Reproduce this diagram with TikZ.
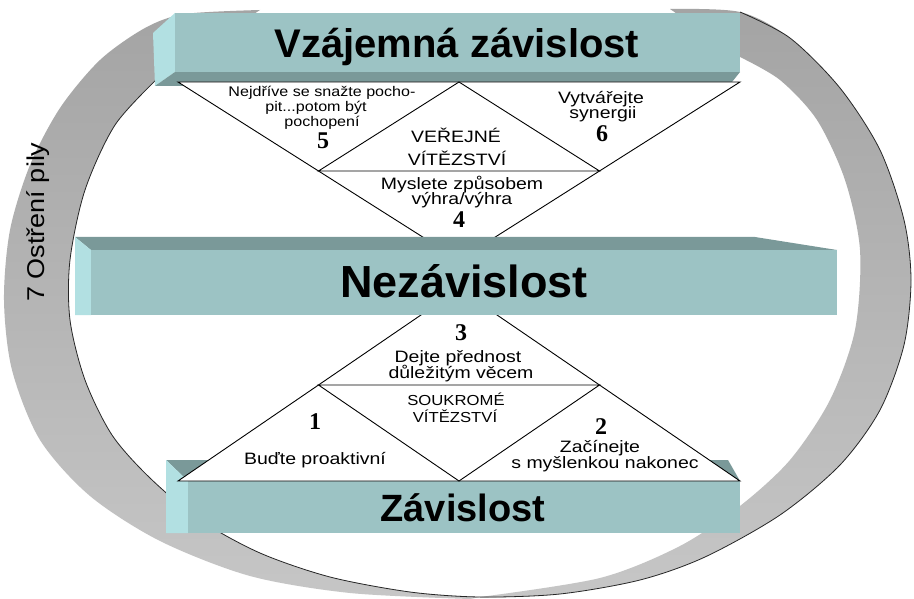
\documentclass[tikz,border=0pt]{standalone}
\usepackage{fontspec}
\setmainfont{Liberation Sans}
\newfontfamily\numfont{Liberation Serif}
\usetikzlibrary{calc}
\definecolor{barfront}{HTML}{9CC3C4}
\definecolor{bardark}{HTML}{7A9999}
\definecolor{barside}{HTML}{B2E0E2}
\definecolor{ringtop}{HTML}{A4A4A4}
\definecolor{ringbot}{HTML}{C6C6C6}
\begin{document}
\begin{tikzpicture}[x=1pt,y=-1pt,
  title/.style={font=\bfseries\fontsize{40}{48}\selectfont, inner sep=0pt, anchor=base},
  lbl/.style={font=\fontsize{16.5}{18}\selectfont, xscale=1.18, inner sep=0pt, anchor=base},
  smalllbl/.style={font=\fontsize{14.5}{16}\selectfont, xscale=1.15, inner sep=0pt, anchor=base},
  tinylbl/.style={font=\fontsize{14}{15}\selectfont, xscale=1.15, inner sep=0pt, anchor=base},
  num/.style={font=\numfont\bfseries\fontsize{24}{26}\selectfont, inner sep=0pt, anchor=base},
  edge/.style={line width=0.9pt, black, line join=miter},
  ringline/.style={line width=0.8pt, black!85}]
\useasboundingbox (0,0) rectangle (914,599);
\fill[white] (0,0) rectangle (914,599);

% --- the ring "7 Ostreni pily": left half of the band
\shade[top color=ringtop, bottom color=ringbot]
  plot[smooth] coordinates {(158,78) (115,125) (85,190) (70,260) (70,320) (85,380) (112,435) (150,478) (200,520) (260,553) (330,577) (410,592) (480,597)}
  -- plot[smooth] coordinates {(470,599) (350,593) (250,576) (160,541) (90,496) (40,440) (12,370) (4,300) (10,230) (30,165) (60,108) (100,60) (145,28) (185,14) (260,10)}
  -- cycle;
% right half of the band
\shade[top color=ringtop, bottom color=ringbot]
  plot[smooth] coordinates {(670,9) (740,12) (790,38) (840,88) (880,150) (904,220) (911,280) (904,345) (880,410) (840,465) (780,515) (705,557) (640,580) (560,594) (480,598)}
  -- plot[smooth] coordinates {(480,597) (600,578) (680,546) (740,506) (790,460) (830,400) (855,330) (860,250) (845,180) (817,120) (780,80) (740,57)}
  -- cycle;
% dark edge of the band
\draw[ringline] plot[smooth] coordinates {(158,78) (115,125) (85,190) (70,260) (70,320) (85,380) (112,435) (150,478) (200,520) (260,553) (330,577) (410,592) (480,597) (560,594) (640,580) (705,557) (780,515) (840,465) (880,410) (904,345) (911,280) (904,220) (880,150) (840,88) (790,38) (740,12)};
\node[font=\fontsize{27}{29}\selectfont, xscale=0.9, inner sep=0pt, anchor=base, rotate=90] (saw) at (45,222) {7 Ostření pily};

% --- top bar
\fill[barside] (153,33) -- (175,13) -- (175,72) -- (155,86) -- cycle;
\fill[bardark] (175,72) -- (740,72) -- (732,82) -- (155,86) -- cycle;
\fill[barfront] (175,13) rectangle (740,72);
\node[title] (interdep) at (457,58) {Vzájemná závislost};

% --- upper triangle (public victory)
\coordinate (tA) at (178,82);
\coordinate (tB) at (740,82);
\coordinate (tC) at (459,260);
\coordinate (tAB) at ($(tA)!0.5!(tB)$);
\coordinate (tAC) at ($(tA)!0.5!(tC)$);
\coordinate (tBC) at ($(tB)!0.5!(tC)$);
\fill[white] (tA) -- (tB) -- (tC) -- cycle;
\draw[edge] (tA) -- (tB) -- (tC) -- cycle;
\draw[edge] (tAB) -- (tAC) -- (tBC) -- cycle;

% --- bottom bar
\fill[bardark] (166,460) -- (728,460) -- (740,481) -- (188,481) -- cycle;
\fill[barside] (166,460) -- (188,481) -- (188,533) -- (166,533) -- cycle;
\fill[barfront] (188,481) rectangle (740,533);

% --- lower triangle (private victory)
\coordinate (bA) at (178,481);
\coordinate (bB) at (740,481);
\coordinate (bC) at (459,289);
\coordinate (bAB) at ($(bA)!0.5!(bB)$);
\coordinate (bAC) at ($(bA)!0.5!(bC)$);
\coordinate (bBC) at ($(bB)!0.5!(bC)$);
\fill[white] (bA) -- (bB) -- (bC) -- cycle;
\draw[edge] (bA) -- (bB) -- (bC) -- cycle;
\draw[edge] (bAB) -- (bAC) -- (bBC) -- cycle;
\node[title, font=\bfseries\fontsize{38}{46}\selectfont] (dep) at (463,521) {Závislost};

% --- middle bar
\fill[bardark] (75,237) -- (755,237) -- (837,250) -- (91,250) -- cycle;
\fill[barside] (75,237) -- (91,250) -- (91,315) -- (75,315) -- cycle;
\fill[barfront] (91,250) rectangle (837,315);
\node[title, font=\bfseries\fontsize{45}{54}\selectfont] (indep) at (464,297) {Nezávislost};

% --- habits 4, 5, 6
\node[tinylbl] (h5a) at (322,97) {Nejdříve se snažte pocho-};
\node[tinylbl] (h5b) at (316,112) {pit...potom být};
\node[tinylbl] (h5c) at (322,127) {pochopení};
\node[num] (n5) at (323,149) {5};
\node[lbl] (h6a) at (601,104) {Vytvářejte};
\node[lbl] (h6b) at (603,119) {synergii};
\node[num] (n6) at (602,142) {6};
\node[lbl] (pubA) at (456,143) {VEŘEJNÉ};
\node[lbl] (pubB) at (457,166) {VÍTĚZSTVÍ};
\node[lbl] (h4a) at (462,190) {Myslete způsobem};
\node[lbl] (h4b) at (462,205) {výhra/výhra};
\node[num] (n4) at (459,228) {4};

% --- habits 1, 2, 3
\node[num] (n3) at (461,340) {3};
\node[lbl] (h3a) at (458,362) {Dejte přednost};
\node[lbl] (h3b) at (461,378) {důležitým věcem};
\node[smalllbl] (privA) at (456,405) {SOUKROMÉ};
\node[smalllbl] (privB) at (455,422) {VÍTĚZSTVÍ};
\node[num] (n1) at (315,429) {1};
\node[lbl] (h1) at (315,464) {Buďte proaktivní};
\node[num] (n2) at (601,434) {2};
\node[lbl] (h2a) at (600,452) {Začínejte};
\node[lbl] (h2b) at (605,468) {s myšlenkou nakonec};
\end{tikzpicture}
\end{document}
